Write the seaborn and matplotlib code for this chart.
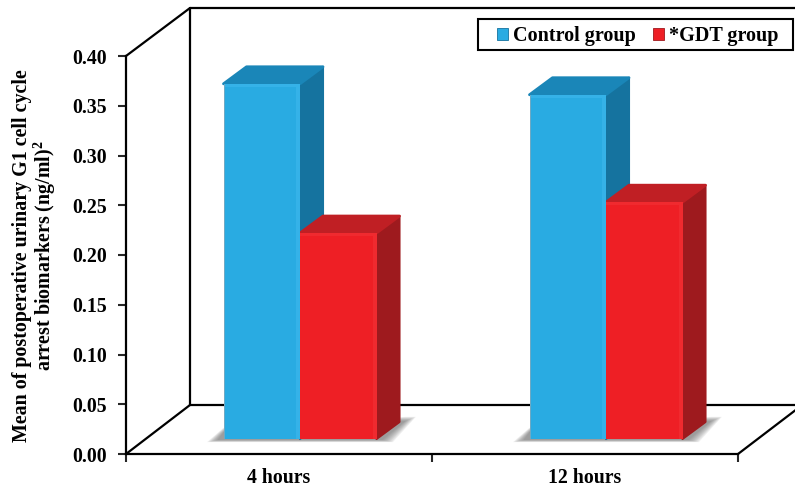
import pandas as pd
import seaborn as sns
import matplotlib.pyplot as plt
from matplotlib.lines import Line2D
from matplotlib.patches import Patch, Polygon, Rectangle

# Values
hours = ['4 hours', '12 hours']
groups = ['Control group', '*GDT group']
control_vals = [0.357, 0.346]
gdt_vals = [0.207, 0.238]
y_ticks = [0.00, 0.05, 0.10, 0.15, 0.20, 0.25, 0.30, 0.35, 0.40]
y_label = 'Mean of postoperative urinary G1 cell cycle\narrest biomarkers (ng/ml)$\\mathbf{^2}$'

front_cols = ['#29ABE2', '#EE1F25']
side_cols = ['#15739F', '#9E1A1E']
top_cols = ['#1A86B8', '#C01F24']
edge_cols = ['#35B2E8', '#F02A2F']

W, H = 795, 490

df = pd.DataFrame({
    'hours': hours * 2,
    'group': [groups[0]] * 2 + [groups[1]] * 2,
    'value': control_vals + gdt_vals,
})

sns.set_theme(style='white')
plt.rcParams['font.family'] = ['Liberation Serif', 'DejaVu Serif']
plt.rcParams['mathtext.fontset'] = 'custom'
plt.rcParams['mathtext.bf'] = 'Liberation Serif:bold'
plt.rcParams['font.weight'] = 'bold'

fig = plt.figure(figsize=(W / 100, H / 100), dpi=100)


def box(x0, y_bottom, x1, y_top):
    return [x0 / W, 1 - y_bottom / H, (x1 - x0) / W, (y_bottom - y_top) / H]


def fig_xy(x, y):
    return x / W, 1 - y / H


# Front axis with ticks and labels
ax = fig.add_axes(box(126, 454, 738, 56))
ax.set_zorder(1)
ax.patch.set_visible(False)
ax.set_xlim(-0.5, 1.5)
ax.set_ylim(0, 0.40)
ax.set_yticks(y_ticks)
ax.set_yticklabels(['%.2f' % t for t in y_ticks], fontsize=14.3, fontweight='bold', color='black')
ax.set_xticks([-0.5, 0.5, 1.5])
ax.set_xticklabels([])
ax.set_xticks([0, 1], minor=True)
ax.set_xticklabels(hours, minor=True, fontsize=14.2, fontweight='bold', color='black')
ax.tick_params(axis='y', length=6, width=1.5, left=True, pad=8)
ax.tick_params(axis='x', which='major', length=6, width=1.5, bottom=True)
ax.tick_params(axis='x', which='minor', length=0, pad=10)
sns.despine(ax=ax)
for s in ['left', 'bottom']:
    ax.spines[s].set_linewidth(1.6)
    ax.spines[s].set_color('black')
ax.set_ylabel(y_label, fontsize=14.4, fontweight='bold', color='black', linespacing=1.0)
ax.yaxis.set_label_coords(58 / W, 1 - 256 / H, transform=fig.transFigure)

# Back walls and floor
frame_lines = [
    [(126, 454), (190, 405)],
    [(126, 56), (190, 8)],
    [(190, 8), (190, 405)],
    [(190, 8), (797, 8)],
    [(190, 405), (797, 405)],
    [(738, 454), (797, 409)],
]
for a, b in frame_lines:
    xs, ys = zip(fig_xy(*a), fig_xy(*b))
    ax.add_line(Line2D(xs, ys, transform=fig.transFigure, color='black', lw=1.6, clip_on=False))

# Bars sit further back on the floor, so they get their own shifted axes
bar_ax = fig.add_axes(box(147, 439, 759, 41))
bar_ax.set_zorder(2)
bar_ax.patch.set_visible(False)
sns.barplot(data=df, x='hours', y='value', hue='group', hue_order=groups, order=hours,
            palette=front_cols, width=0.5, gap=0, saturation=1, legend=False,
            ax=bar_ax, zorder=2, linewidth=0)
bar_ax.set_xlim(-0.5, 1.5)
bar_ax.set_ylim(0, 0.40)
bar_ax.axis('off')

px_x = 2 / 612
px_y = 0.40 / 398
dx, dy = 23 * px_x, 17 * px_y

# Depth faces, bevels and floor shadow, from the positions seaborn gave the bars
for g, cont in enumerate(bar_ax.containers):
    for bar in cont:
        x0, w, h = bar.get_x(), bar.get_width(), bar.get_height()
        x1 = x0 + w
        side = Polygon([(x1, 0), (x1 + dx, dy), (x1 + dx, h + dy), (x1, h)], fc=side_cols[g],
                       ec=side_cols[g], lw=1.5, joinstyle='round', zorder=1 + g * 0.5, clip_on=False)
        top = Polygon([(x0, h), (x0 + dx, h + dy), (x1 + dx, h + dy), (x1, h)], fc=top_cols[g],
                      ec=top_cols[g], lw=2, joinstyle='round', zorder=1 + g * 0.5, clip_on=False)
        bar_ax.add_patch(side)
        bar_ax.add_patch(top)
        bar_ax.add_patch(Rectangle((x1 - 4 * px_x, 0), 4 * px_x, h, fc=edge_cols[g], lw=0, zorder=2.1))
        bar_ax.add_patch(Rectangle((x0, h - 3 * px_y), w, 3 * px_y, fc=edge_cols[g], lw=0, zorder=2.1))
        if g == 0:
            bar_ax.add_patch(Rectangle((x0, 0), 1.2 * px_x, h, fc='#6FA9C4', lw=0, zorder=2.2))

    if g == 1:
        continue
    for k, bar in enumerate(cont):
        xl = bar.get_x()
        xr = cont[k].get_x() + 2 * cont[k].get_width()
        for grow in range(9):
            e = (8 - grow) * 1.3
            shadow = Polygon([(xl - (6 + e) * px_x, (-1 - e * 0.2) * px_y),
                              (xl, (7 + e * 0.4) * px_y),
                              (xr + (24 + e * 0.5) * px_x, (18 + e * 0.4) * px_y),
                              (xr + (29 + e) * px_x, (18 + e * 0.4) * px_y),
                              (xr + (6 + e) * px_x, (-1 - e * 0.2) * px_y)],
                             fc='#666666', alpha=0.1, lw=0, zorder=0.5, clip_on=False)
            bar_ax.add_patch(shadow)

# Legend: frame drawn apart because its padding is wider at the sides than above and below
frame_x, frame_y = fig_xy(478, 50)
fig.add_artist(Rectangle((frame_x, frame_y), (793 - 478) / W, (50 - 19) / H, transform=fig.transFigure,
                         fc='white', ec='black', lw=1.5, zorder=4))
handles = [Patch(fc=front_cols[0], ec='#15739F', lw=0.6, label=groups[0]),
           Patch(fc=front_cols[1], ec='#9E1A1E', lw=0.6, label=groups[1])]
leg = fig.legend(handles=handles, ncol=2, loc='center', bbox_to_anchor=fig_xy(637.5, 36),
                 frameon=False,
                 prop={'family': 'Liberation Serif', 'weight': 'bold', 'size': 14.5},
                 handlelength=0.55, handleheight=0.55, handletextpad=0.25, columnspacing=0.85,
                 borderpad=0, borderaxespad=0)
leg.set_zorder(5)
for t in leg.get_texts():
    t.set_color('black')

fig.savefig('out.png', dpi=100)
